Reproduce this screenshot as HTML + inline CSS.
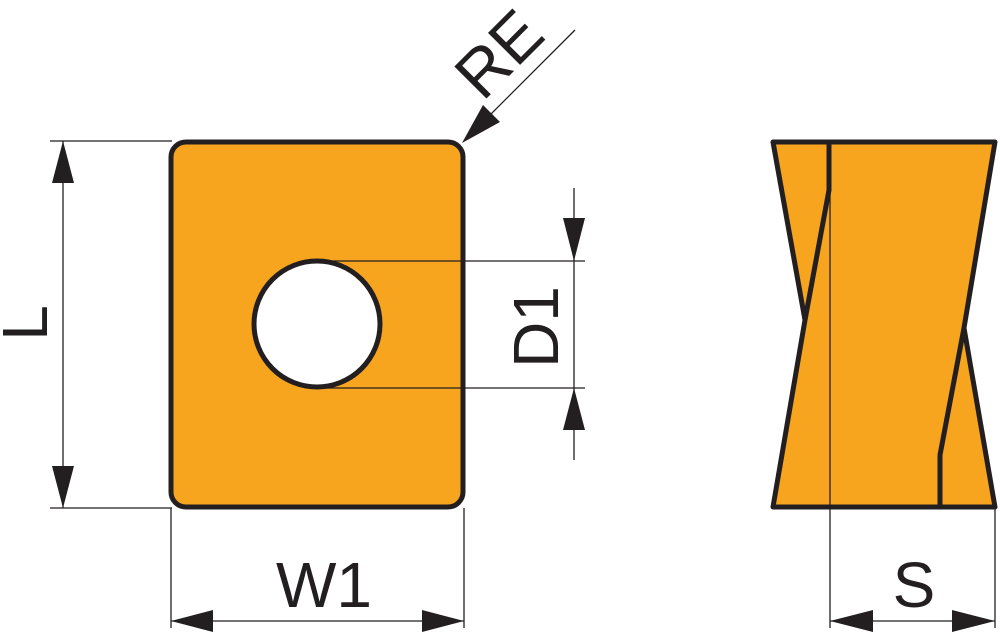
<!DOCTYPE html>
<html><head><style>html,body{margin:0;padding:0;background:#fff;width:1000px;height:634px;overflow:hidden}</style></head>
<body>
<svg width="1000" height="634" viewBox="0 0 1000 634" xmlns="http://www.w3.org/2000/svg">
<!-- left insert -->
<rect x="171" y="142" width="292" height="365" rx="15" fill="#F7A51F" stroke="#231f20" stroke-width="5"/>
<circle cx="317" cy="324" r="63" fill="#fff" stroke="#231f20" stroke-width="5"/>
<g stroke="#231f20" stroke-width="1.3" fill="none">
<line x1="50" y1="141" x2="172" y2="141"/>
<line x1="50" y1="508" x2="172" y2="508"/>
<line x1="63" y1="141" x2="63" y2="508"/>
<line x1="171" y1="508" x2="171" y2="628"/>
<line x1="464" y1="508" x2="464" y2="628"/>
<line x1="171" y1="621" x2="464" y2="621"/>
<line x1="317" y1="261" x2="585" y2="261"/>
<line x1="317" y1="388" x2="585" y2="388"/>
<line x1="574" y1="188" x2="574" y2="460"/>
<line x1="575" y1="30" x2="470" y2="135"/>
<line x1="830" y1="142" x2="830" y2="628"/>
<line x1="995" y1="508" x2="995" y2="628"/>
<line x1="830" y1="621" x2="995" y2="621"/>
</g>
<g fill="#231f20">
<polygon points="63,141 52,183 74,183"/>
<polygon points="63,508 52,466 74,466"/>
<polygon points="171,621 213,610 213,632"/>
<polygon points="464,621 422,610 422,632"/>
<polygon points="574,261 563,218 585,218"/>
<polygon points="574,388 563,430 585,430"/>
<polygon points="830,621 873,610 873,632"/>
<polygon points="995,621 952,610 952,632"/>
<polygon points="462,143 483,105 500,122"/>
</g>
<!-- right side view -->
<polygon points="773,142 995,142 964,328 995,507 773,507 805,320" fill="#F7A51F" stroke="#231f20" stroke-width="5" stroke-linejoin="round"/>
<polyline points="829,142 829,190 805,320" fill="none" stroke="#231f20" stroke-width="5"/>
<polyline points="964,328 940,455 940,507" fill="none" stroke="#231f20" stroke-width="5"/>
<line x1="830" y1="142" x2="830" y2="507" stroke="#231f20" stroke-width="1.3"/>
<g font-family="Liberation Sans, sans-serif" font-size="64" fill="#231f20">
<text x="324" y="607" text-anchor="middle">W1</text>
<text x="914" y="607" text-anchor="middle">S</text>
<text transform="translate(47,323) rotate(-90)" text-anchor="middle">L</text>
<text transform="translate(558,327) rotate(-90)" text-anchor="middle">D1</text>
<text transform="translate(515,70) rotate(-45)" text-anchor="middle" font-size="66">RE</text>
</g>
</svg>
</body></html>
